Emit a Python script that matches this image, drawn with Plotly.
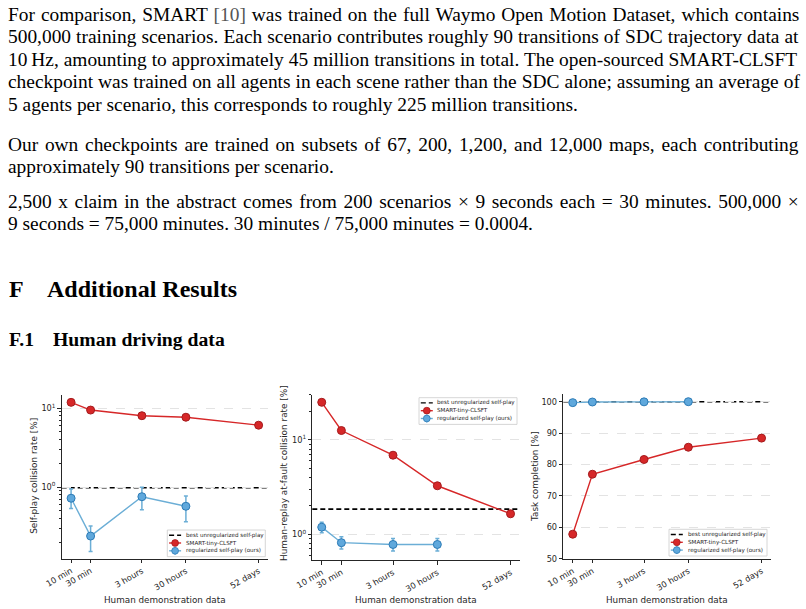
import plotly.graph_objects as go

W, H = 806, 609


def X(px):
    return px / W


def Y(py):
    return 1 - py / H


# ---------------- data ----------------
categories = ["10 min", "30 min", "3 hours", "30 hours", "52 days"]
x_scale = [0.0, 0.51, 1.85, 3.0, 4.9]

selfplay_smart = [11.9, 9.5, 8.05, 7.7, 6.1]
selfplay_ours = [0.72, 0.238, 0.753, 0.569]
selfplay_ours_hi = [0.94, 0.32, 0.99, 0.77]
selfplay_ours_lo = [0.535, 0.152, 0.515, 0.363]
selfplay_best = 0.98

replay_smart = [25.1, 12.6, 6.9, 3.27, 1.65]
replay_ours = [1.19, 0.815, 0.78, 0.78]
replay_ours_hi = [1.34, 0.94, 0.90, 0.90]
replay_ours_lo = [1.04, 0.70, 0.665, 0.665]
replay_best = 1.85

completion_smart = [57.8, 76.9, 81.6, 85.5, 88.4]
completion_ours = [99.7, 99.9, 99.95, 100.0]
completion_best = 100.0

legend_labels = ["best unregularized self-play", "SMART-tiny-CLSFT", "regularized self-play (ours)"]

para1 = [
    "For comparison, SMART <span style='color:#555555'>[10]</span> was trained on the full Waymo Open Motion Dataset, which contains",
    "500,000 training scenarios. Each scenario contributes roughly 90 transitions of SDC trajectory data at",
    "10\u2009Hz, amounting to approximately 45 million transitions in total. The open-sourced SMART-CLSFT",
    "checkpoint was trained on all agents in each scene rather than the SDC alone; assuming an average of",
    "5 agents per scenario, this corresponds to roughly 225 million transitions.",
]
para2 = [
    "Our own checkpoints are trained on subsets of 67, 200, 1,200, and 12,000 maps, each contributing",
    "approximately 90 transitions per scenario.",
]
para3 = [
    "2,500 x claim in the abstract comes from 200 scenarios \u00d7 9 seconds each = 30 minutes. 500,000 \u00d7",
    "9 seconds = 75,000 minutes. 30 minutes / 75,000 minutes = 0.0004.",
]

# ---------------- style ----------------
RED = "#d62728"
RED_EDGE = "#a51c1e"
BLUE = "#6baed6"
BLUE_FILL = "#5fa8dc"
BLUE_EDGE = "#2c7bb6"
DARK = "#262626"
CHART_FONT = "DejaVu Sans"
TEXT_FONT = "Liberation Serif"

fig = go.Figure()


def err(vals, hi, lo):
    return dict(
        type="data",
        array=[h - v for h, v in zip(hi, vals)],
        arrayminus=[v - l for v, l in zip(vals, lo)],
        color=BLUE,
        thickness=1.5,
        width=2,
    )


panels = [
    (selfplay_smart, selfplay_ours, (selfplay_ours_hi, selfplay_ours_lo), selfplay_best, "x", "y"),
    (replay_smart, replay_ours, (replay_ours_hi, replay_ours_lo), replay_best, "x2", "y2"),
    (completion_smart, completion_ours, None, completion_best, "x3", "y3"),
]

for smart, ours, errs, best, xa, ya in panels:
    fig.add_trace(go.Scatter(
        x=x_scale, y=smart, xaxis=xa, yaxis=ya, mode="lines+markers",
        line=dict(color=RED, width=1.4),
        marker=dict(size=8, color=RED, line=dict(color=RED_EDGE, width=1)),
        showlegend=False, hoverinfo="skip"))
    fig.add_trace(go.Scatter(
        x=x_scale[:len(ours)], y=ours, xaxis=xa, yaxis=ya, mode="lines+markers",
        line=dict(color=BLUE, width=1.4),
        marker=dict(size=8, color=BLUE_FILL, line=dict(color=BLUE_EDGE, width=1)),
        error_y=err(ours, *errs) if errs else None,
        showlegend=False, hoverinfo="skip"))
    fig.add_shape(type="line", xref=xa + " domain", yref=ya, x0=0, x1=1, y0=best, y1=best,
                  line=dict(color="black", width=1.6, dash="5px,3px"), layer="below")

# ---------------- axes ----------------
common_x = dict(
    range=[-0.245, 5.145], tickvals=x_scale, ticktext=categories, tickangle=-30,
    showline=True, linecolor=DARK, linewidth=1.2, ticks="outside", ticklen=3.5,
    tickwidth=1, tickcolor=DARK, showgrid=False, zeroline=False, automargin=False,
    tickfont=dict(family=CHART_FONT, size=8.3, color=DARK),
)
common_y = dict(
    showline=True, linecolor=DARK, linewidth=1.2, ticks="outside", ticklen=3.5,
    tickwidth=1, tickcolor=DARK, showgrid=True, gridcolor="#e3e3e3", griddash="dash",
    gridwidth=0.8, zeroline=False, automargin=False,
    tickfont=dict(family=CHART_FONT, size=8.2, color=DARK),
)
minor1 = [v * m for v in (0.1, 1.0) for m in range(2, 10)]
minor2 = [v * m for v in (0.1, 1.0, 10.0) for m in range(2, 10)]

fig.update_layout(
    xaxis=dict(common_x, domain=[X(61.7), X(268)], anchor="y"),
    yaxis=dict(common_y, domain=[Y(558.5), Y(395)], anchor="x", type="log",
               range=[-0.9085, 1.169], tickvals=[1, 10],
               ticktext=["10<sup>0</sup>", "10<sup>1</sup>"],
               minor=dict(tickvals=minor1, ticks="outside", ticklen=2, tickcolor=DARK, showgrid=False)),
    xaxis2=dict(common_x, domain=[X(312.3), X(520)], anchor="y2"),
    yaxis2=dict(common_y, domain=[Y(560), Y(395)], anchor="x2", type="log",
                range=[-0.2725, 1.477], tickvals=[1, 10],
                ticktext=["10<sup>0</sup>", "10<sup>1</sup>"],
                minor=dict(tickvals=minor2, ticks="outside", ticklen=2, tickcolor=DARK, showgrid=False)),
    xaxis3=dict(common_x, domain=[X(563.3), X(771)], anchor="y3"),
    yaxis3=dict(common_y, domain=[Y(558.7), Y(394)], anchor="x3",
                range=[50, 102.45], dtick=10, tick0=50),
)

annotations = []

# axis titles
y_titles = [("Self-play collision rate [%]", 33.3, 475.5),
            ("Human-replay at-fault collision rate [%]", 283.5, 473.5),
            ("Task completion [%]", 534.3, 476.7)]
for txt, px, py in y_titles:
    annotations.append(dict(text=txt, x=X(px), y=Y(py), xref="paper", yref="paper",
                            textangle=-90, showarrow=False, xanchor="center", yanchor="middle",
                            font=dict(family=CHART_FONT, size=8.9, color=DARK)))
for cx in (164.9, 416.2, 667.2):
    annotations.append(dict(text="Human demonstration data", x=X(cx), y=Y(600), xref="paper",
                            yref="paper", showarrow=False, xanchor="center", yanchor="middle",
                            font=dict(family=CHART_FONT, size=8.8, color=DARK)))


# ---------------- legends (drawn) ----------------
def add_legend(left, top):
    w, h = 98, 26.7
    fig.add_shape(type="rect", xref="paper", yref="paper", x0=X(left), x1=X(left + w),
                  y0=Y(top + h), y1=Y(top), line=dict(color="#cccccc", width=0.8),
                  fillcolor="rgba(255,255,255,0.85)", layer="above")
    rows = [top + 5.2, top + 13.0, top + 20.8]
    styles = [("black", None, None, "5px,3px"),
              (RED, RED, RED_EDGE, "solid"),
              (BLUE, BLUE_FILL, BLUE_EDGE, "solid")]
    for (lc, mfill, medge, dash), ry, lab in zip(styles, rows, legend_labels):
        fig.add_shape(type="line", xref="paper", yref="paper", x0=X(left + 1.8), x1=X(left + 13.8),
                      y0=Y(ry), y1=Y(ry), line=dict(color=lc, width=1.4, dash=dash), layer="above")
        if mfill:
            if lc == BLUE:
                fig.add_shape(type="line", xref="paper", yref="paper", x0=X(left + 7.8),
                              x1=X(left + 7.8), y0=Y(ry - 4), y1=Y(ry + 4),
                              line=dict(color=BLUE, width=1.2), layer="above")
            fig.add_shape(type="circle", xref="paper", yref="paper", xsizemode="pixel",
                          ysizemode="pixel", xanchor=X(left + 7.8), yanchor=Y(ry),
                          x0=-3.4, x1=3.4, y0=-3.4, y1=3.4, fillcolor=mfill,
                          line=dict(color=medge, width=0.8), layer="above")
        annotations.append(dict(text=lab, x=X(left + 16.5), y=Y(ry), xref="paper", yref="paper",
                                showarrow=False, xanchor="left", yanchor="middle",
                                font=dict(family=CHART_FONT, size=5.6, color=DARK)))


add_legend(167.3, 530.0)
add_legend(419.0, 397.7)
add_legend(669.0, 529.3)

# ---------------- page text ----------------
BODY = 19.4


def text_line(txt, px, baseline, size, bold=False, wordspace=0.0):
    label = f"<b>{txt}</b>" if bold else txt
    if wordspace:
        label = f"<span style='word-spacing:{wordspace:.2f}px'>{label}</span>"
    annotations.append(dict(text=label, x=X(px), y=Y(baseline - 0.34 * size), xref="paper",
                            yref="paper", showarrow=False, xanchor="left", yanchor="middle",
                            font=dict(family=TEXT_FONT, size=size, color="black")))


# extra inter-word space per justified line (style only)
just1 = [1.15, 0.2, 0.15, 0.18, 0.0]
just2 = [1.9, 0.0]
just3 = [1.75, 0.0]

for i, line in enumerate(para1):
    text_line(line, 6.0, 21.0 + 22.4 * i, BODY, wordspace=just1[i])
for i, line in enumerate(para2):
    text_line(line, 6.0, 151.0 + 22.4 * i, BODY, wordspace=just2[i])
for i, line in enumerate(para3):
    text_line(line, 6.0, 208.0 + 22.4 * i, BODY, wordspace=just3[i])

text_line("F", 6.5, 296.7, 24, bold=True)
text_line("Additional Results", 44.5, 296.7, 24, bold=True)
text_line("F.1", 6.5, 345.5, 19.7, bold=True)
text_line("Human driving data", 51.2, 345.5, 19.7, bold=True)

fig.update_layout(
    annotations=annotations,
    width=W, height=H, autosize=False,
    margin=dict(l=0, r=0, t=0, b=0, pad=0),
    paper_bgcolor="white", plot_bgcolor="white",
    showlegend=False,
)

fig.write_html("out.html")
